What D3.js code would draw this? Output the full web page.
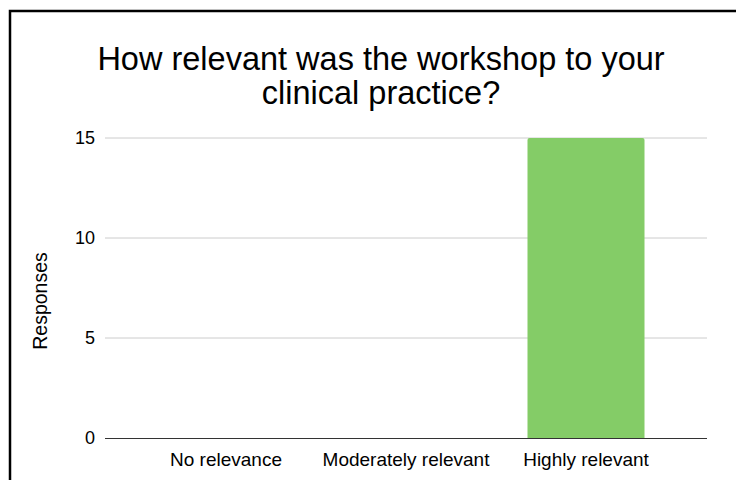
<!DOCTYPE html>
<html>
<head>
<meta charset="utf-8">
<script src="https://cdn.jsdelivr.net/npm/d3@7"></script>
<style>
  body { margin: 0; background: #fff; }
  text { font-family: "Liberation Sans", Arial, Helvetica, sans-serif; fill: #000; }
</style>
</head>
<body>
<script>
// chart data
var categories = ["No relevance", "Moderately relevant", "Highly relevant"];
var responses = [0, 0, 15];
var yTicks = [0, 5, 10, 15];
var titleLines = ["How relevant was the workshop to your", "clinical practice?"];

var W = 736, H = 480;
var plot = {left: 105, right: 707, top: 138, bottom: 438};

var svg = d3.select("body").append("svg")
    .attr("width", W)
    .attr("height", H);

svg.append("rect").attr("width", W).attr("height", H).attr("fill", "#fff");

// frame (runs off right and bottom edges)
svg.append("path")
    .attr("d", "M10,490 L10,11 L745,11")
    .attr("fill", "none")
    .attr("stroke", "#000")
    .attr("stroke-width", 2.5);

// title, two lines
svg.append("text")
    .attr("text-anchor", "middle")
    .attr("font-size", 32.5)
    .selectAll("tspan")
    .data(titleLines)
    .enter().append("tspan")
    .attr("x", 381)
    .attr("y", function(d, i) { return 70 + i * 34; })
    .text(function(d) { return d; });

var x = d3.scaleBand()
    .domain(categories)
    .range([136, 676])
    .paddingInner(0.35)
    .paddingOuter(0.175);

var y = d3.scaleLinear()
    .domain([0, 15])
    .range([plot.bottom, plot.top]);

// gridlines
svg.append("g")
    .selectAll("line")
    .data(yTicks.filter(function(d) { return d > 0; }))
    .enter().append("line")
    .attr("x1", plot.left).attr("x2", plot.right)
    .attr("y1", function(d) { return y(d); })
    .attr("y2", function(d) { return y(d); })
    .attr("stroke", "#cccccc")
    .attr("stroke-width", 1);

// y tick labels
svg.append("g")
    .selectAll("text")
    .data(yTicks)
    .enter().append("text")
    .attr("x", 95)
    .attr("y", function(d) { return y(d); })
    .attr("dy", "0.35em")
    .attr("text-anchor", "end")
    .attr("font-size", 18)
    .text(function(d) { return d; });

// bars
svg.append("g")
    .selectAll("path")
    .data(responses)
    .enter().append("path")
    .attr("fill", "#84cc67")
    .attr("d", function(d, i) {
      var x0 = x(categories[i]), w = x.bandwidth();
      var y0 = y(d), y1 = y(0), r = Math.min(2, (y1 - y0) / 2);
      if (d <= 0) return "";
      return "M" + x0 + "," + y1 +
        " L" + x0 + "," + (y0 + r) +
        " Q" + x0 + "," + y0 + " " + (x0 + r) + "," + y0 +
        " L" + (x0 + w - r) + "," + y0 +
        " Q" + (x0 + w) + "," + y0 + " " + (x0 + w) + "," + (y0 + r) +
        " L" + (x0 + w) + "," + y1 + " Z";
    });

// baseline
svg.append("line")
    .attr("x1", plot.left).attr("x2", plot.right)
    .attr("y1", y(0) + 0.5).attr("y2", y(0) + 0.5)
    .attr("stroke", "#333")
    .attr("stroke-width", 1);

// category labels
svg.append("g")
    .selectAll("text")
    .data(categories)
    .enter().append("text")
    .attr("x", function(d) { return x(d) + x.bandwidth() / 2; })
    .attr("y", 466)
    .attr("text-anchor", "middle")
    .attr("font-size", 19)
    .text(function(d) { return d; });

// y axis title
svg.append("text")
    .attr("transform", "translate(47,301) rotate(-90)")
    .attr("text-anchor", "middle")
    .attr("font-size", 19.5)
    .text("Responses");
</script>
</body>
</html>
